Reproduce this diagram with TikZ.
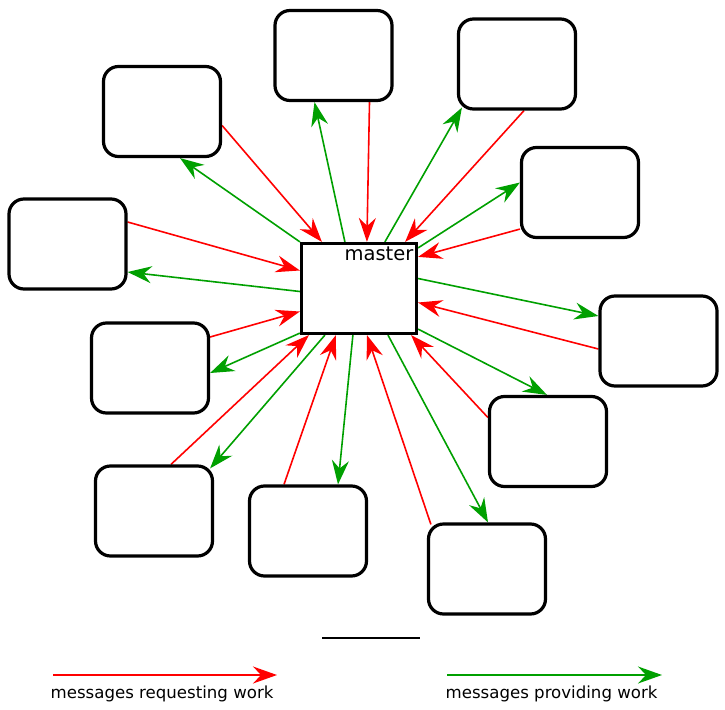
\documentclass[tikz,border=0pt]{standalone}
\usepackage{fontspec}
\setmainfont{DejaVu Sans}
\usepackage{xcolor}
\usetikzlibrary{arrows.meta,calc,backgrounds}

\definecolor{ReqRed}{RGB}{255,0,0}
\definecolor{ProvGreen}{RGB}{0,160,0}

\begin{document}
\begin{tikzpicture}[x=1pt, y=-1pt,
    worker/.style={draw, line width=3.2pt, rounded corners=15pt, fill=white, minimum width=117pt, minimum height=90pt, inner sep=0pt},
    request/.style={ReqRed, line width=1.6pt, -{Stealth[length=24pt, width=17pt, inset=8pt]}},
    provide/.style={ProvGreen, line width=1.6pt, -{Stealth[length=24pt, width=17pt, inset=8pt]}},
    legend/.style={anchor=base west, inner sep=0pt, font=\fontsize{16.6}{19}\selectfont}]
  \useasboundingbox (0,0) rectangle (725,709);

  \node (Master) [draw, line width=3.2pt, fill=white, minimum width=115pt, minimum height=90pt, inner sep=0pt] at (359,288.5) {};
  \node (MasterText) [anchor=base east, inner sep=0pt, font=\fontsize{19.5}{23}\selectfont] at ($(Master.north east)+(-4.5,18.5)$) {master};

  \node (Worker1) [worker] at (162,111.5) {};
  \node (Worker2) [worker] at (333.5,55.5) {};
  \node (Worker3) [worker] at (517,64) {};
  \node (Worker4) [worker] at (580,192.5) {};
  \node (Worker5) [worker] at (67.5,244) {};
  \node (Worker6) [worker] at (658.5,341) {};
  \node (Worker7) [worker] at (150,368) {};
  \node (Worker8) [worker] at (548,441.5) {};
  \node (Worker9) [worker] at (154,511) {};
  \node (Worker10) [worker] at (308,531) {};
  \node (Worker11) [worker] at (487,569) {};

  \begin{scope}[on background layer]
    % workers ask the master for work
    \draw [request] ($(Worker1.east)+(0,14)$) -- ($(Master.north west)+(22,0)$);
    \draw [request] ($(Worker2.south)+(36,0)$) -- ($(Master.north west)+(67,0)$);
    \draw [request] ($(Worker3.south)+(7,0)$) -- ($(Master.north east)+(-13,0)$);
    \draw [request] ($(Worker4.south west)+(0,-10)$) -- ($(Master.north east)+(0,15)$);
    \draw [request] ($(Worker5.east)+(0,-22)$) -- ($(Master.west)+(0,-18)$);
    \draw [request] ($(Worker6.west)+(0,8)$) -- ($(Master.east)+(0,14)$);
    \draw [request] ($(Worker7.east)+(0,-31)$) -- ($(Master.west)+(0,23)$);
    \draw [request] ($(Worker8.west)+(0,-24)$) -- ($(Master.south east)+(-7,0)$);
    \draw [request] ($(Worker9.north)+(17,0)$) -- ($(Master.south west)+(9,0)$);
    \draw [request] ($(Worker10.north)+(-24,0)$) -- ($(Master.south west)+(36,0)$);
    \draw [request] ($(Worker11.north west)+(4,2)$) -- ($(Master.south)+(8,0)$);

    % master hands out work
    \draw [provide] (Master.north west) -- ($(Worker1.south)+(18,0)$);
    \draw [provide] ($(Master.north west)+(45,0)$) -- ($(Worker2.south)+(-19,0)$);
    \draw [provide] ($(Master.north west)+(85,0)$) -- ($(Worker3.south west)+(5,-3)$);
    \draw [provide] ($(Master.north east)+(0,6)$) -- ($(Worker4.west)+(0,-10)$);
    \draw [provide] ($(Master.west)+(0,3)$) -- ($(Worker5.east)+(0,28)$);
    \draw [provide] ($(Master.east)+(0,-10)$) -- ($(Worker6.west)+(0,-25)$);
    \draw [provide] ($(Master.south west)+(0,-2)$) -- ($(Worker7.east)+(0,5)$);
    \draw [provide] ($(Master.south east)+(0,-6)$) -- ($(Worker8.north)+(-1,0)$);
    \draw [provide] ($(Master.south west)+(25,0)$) -- ($(Worker9.north east)+(-4,4)$);
    \draw [provide] ($(Master.south west)+(53,0)$) -- ($(Worker10.north)+(30,0)$);
    \draw [provide] ($(Master.south)+(29,0)$) -- ($(Worker11.north)+(1,0)$);
  \end{scope}

  \draw [line width=2.5pt] (322,638) -- (420,638);

  % legend
  \coordinate (ReqStart) at (53,675);
  \coordinate (ReqEnd) at (277,675);
  \coordinate (ProvStart) at (447,675);
  \coordinate (ProvEnd) at (662,675);
  \draw [request] (ReqStart) -- (ReqEnd);
  \draw [provide] (ProvStart) -- (ProvEnd);
  \node (ReqText) [legend] at (50.5,698) {messages requesting work};
  \node (ProvText) [legend] at (445.5,698) {messages providing work};
\end{tikzpicture}
\end{document}
